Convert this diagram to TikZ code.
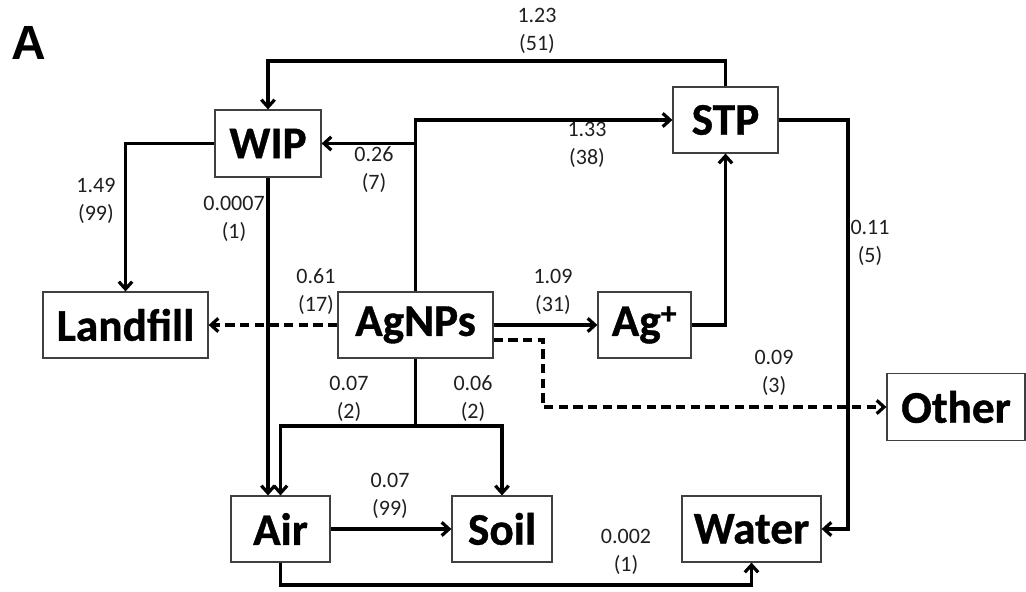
\documentclass[tikz,border=0pt]{standalone}
\usepackage{fontspec}
\setmainfont{Carlito}
\newfontfamily\boxfont{Carlito}[BoldFeatures={FakeBold=0.8}]
\newfontfamily\arialfont{Liberation Sans}
\usetikzlibrary{arrows.meta}
\begin{document}
\begin{tikzpicture}[x=0.75pt,y=-0.75pt,
  box/.style 2 args={draw=black!75,line width=0.9pt,fill=white,inner sep=0pt,
    minimum width=#1*0.75pt,minimum height=#2*0.75pt,
    font=\boxfont\fontsize{34}{38}\selectfont\bfseries},
  lbl/.style={inner sep=0pt,align=center,text=black!88,
    font=\fontsize{16.5}{21}\selectfont},
  arr/.style={line width=2.4pt,-{Straight Barb[length=5.5pt,width=10pt]}},
  ln/.style={line width=2.4pt},
  darr/.style={line width=2.4pt,dash pattern=on 7pt off 4pt,-{Straight Barb[length=5.5pt,width=10pt]}}
]
\useasboundingbox (0,0) rectangle (1026,592);
\node[font=\arialfont\fontsize{36}{40}\selectfont\bfseries,inner sep=0pt] (lab) at (29,43) {A};
% boxes
\node[box={106}{67}] (WIP) at (268,143.5) {WIP};
\node[box={105}{66}] (STP) at (725.5,120) {STP};
\node[box={165}{66}] (Landfill) at (125.5,325) {Landfill};
\node[box={155}{66}] (AgNPs) at (415.5,325) {AgNPs};
\node[box={93}{66}] (Ag) at (644.5,325) {Ag\textsuperscript{+}};
\node[box={138}{67}] (Other) at (956,407) {Other};
\node[box={99}{66}] (Air) at (280.5,529) {Air};
\node[box={100}{66}] (Soil) at (502,529) {Soil};
\node[box={139}{66}] (Water) at (751.5,529) {Water};
% helper coordinates
\coordinate (top) at (0,61);
\coordinate (br) at (415.5,426);
\coordinate (bt) at (0,585);
\coordinate (rx) at (848,0);
\coordinate (d2) at (543,407);
% connectors
\draw[arr] (STP.north) -- (STP.north |- top) -| (WIP.north);
\draw[arr] (WIP.west) -| (Landfill.north);
\draw[arr] (WIP.south) -- (WIP.south |- Air.north);
\draw[arr] (AgNPs.north) -- (AgNPs.north |- STP.west) -- (STP.west);
\draw[arr] (AgNPs.north |- WIP.east) -- (WIP.east);
\draw[darr] (AgNPs.west) -- (Landfill.east);
\draw[arr] (AgNPs.east) -- (Ag.west);
\draw[arr] (Ag.east) -| (STP.south);
\draw[darr] ([yshift=-11.25pt]AgNPs.east) -| (d2) -- (Other.west);
\draw[ln] (AgNPs.south) -- (br);
\draw[arr] (br) -| (Air.north);
\draw[arr] (br) -| (Soil.north);
\draw[arr] (Air.east) -- (Soil.west);
\draw[arr] (Air.south) -- (Air.south |- bt) -| (Water.south);
\draw[arr] (STP.east) -- (STP.east -| rx) |- (Water.east);
% labels
\node[lbl] (l1) at (537,31) {1.23\\(51)};
\node[lbl] (l2) at (587,145) {1.33\\(38)};
\node[lbl] (l3) at (374,170) {0.26\\(7)};
\node[lbl] (l4) at (96,201) {1.49\\(99)};
\node[lbl] (l5) at (234,219) {0.0007\\(1)};
\node[lbl] (l6) at (316,292) {0.61\\(17)};
\node[lbl] (l7) at (349,399) {0.07\\(2)};
\node[lbl] (l8) at (473,399) {0.06\\(2)};
\node[lbl] (l9) at (553,292) {1.09\\(31)};
\node[lbl] (l10) at (774,373) {0.09\\(3)};
\node[lbl] (l11) at (870,243) {0.11\\(5)};
\node[lbl] (l12) at (390,496) {0.07\\(99)};
\node[lbl] (l13) at (626,552) {0.002\\(1)};
\end{tikzpicture}
\end{document}
